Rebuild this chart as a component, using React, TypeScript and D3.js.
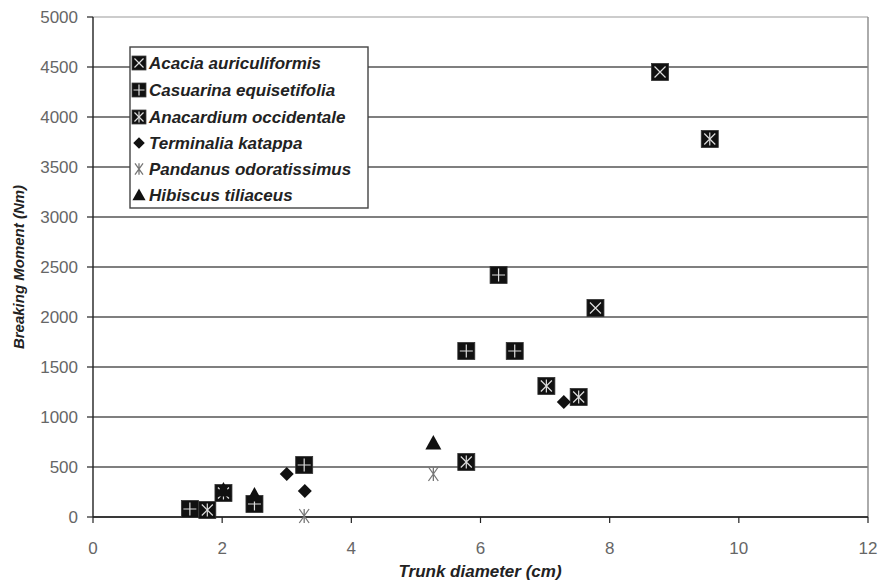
import React from "react";
import * as d3 from "d3";

const speciesNames = [
  "Acacia auriculiformis",
  "Casuarina equisetifolia",
  "Anacardium occidentale",
  "Terminalia katappa",
  "Pandanus odoratissimus",
  "Hibiscus tiliaceus",
];
const markerKinds = ["sqx", "sqplus", "sqstar", "diamond", "star", "triangle"];

const acaciaX = [8.78, 7.78];
const acaciaY = [4450, 2090];
const casuarinaX = [6.28, 5.78, 6.53, 3.27, 1.5, 2.5];
const casuarinaY = [2420, 1660, 1660, 520, 80, 130];
const anacardiumX = [9.55, 7.02, 7.52, 5.78, 1.77, 2.02];
const anacardiumY = [3780, 1310, 1200, 550, 70, 240];
const terminaliaX = [7.29, 3.0, 3.28];
const terminaliaY = [1150, 430, 260];
const pandanusX = [5.27, 3.27];
const pandanusY = [430, 10];
const hibiscusX = [5.27, 2.5, 2.02];
const hibiscusY = [740, 220, 270];

const xTicks = [0, 2, 4, 6, 8, 10, 12];
const yTicks = [0, 500, 1000, 1500, 2000, 2500, 3000, 3500, 4000, 4500, 5000];

const seriesX = [acaciaX, casuarinaX, anacardiumX, terminaliaX, pandanusX, hibiscusX];
const seriesY = [acaciaY, casuarinaY, anacardiumY, terminaliaY, pandanusY, hibiscusY];

function Marker({ kind, x, y, s = 1 }: { kind: string; x: number; y: number; s?: number }) {
  const h = 8.5 * s;
  const w = 5.5 * s;
  if (kind === "sqx" || kind === "sqplus" || kind === "sqstar") {
    return (
      <g transform={`translate(${x},${y})`}>
        <rect x={-h} y={-h} width={2 * h} height={2 * h} fill="#111" stroke="#333" strokeWidth={0.8} />
        {(kind === "sqx" || kind === "sqstar") && (
          <path d={`M${-w},${-w}L${w},${w}M${-w},${w}L${w},${-w}`} stroke="#ddd" strokeWidth={1.2} />
        )}
        {kind === "sqplus" && (
          <path d={`M${-w - 1},0L${w + 1},0M0,${-w - 1}L0,${w + 1}`} stroke="#ddd" strokeWidth={1.2} />
        )}
        {kind === "sqstar" && <path d={`M0,${-w - 1}L0,${w + 1}`} stroke="#ddd" strokeWidth={1.2} />}
      </g>
    );
  }
  if (kind === "diamond") {
    const r = 7 * s;
    return <path transform={`translate(${x},${y})`} d={`M0,${-r}L${r},0L0,${r}L${-r},0Z`} fill="#111" />;
  }
  if (kind === "triangle") {
    const r = 8 * s;
    return <path transform={`translate(${x},${y})`} d={`M0,${-r}L${r},${r * 0.8}L${-r},${r * 0.8}Z`} fill="#111" />;
  }
  const r = 7 * s;
  return (
    <path
      transform={`translate(${x},${y})`}
      d={`M${-r * 0.7},${-r}L${r * 0.7},${r}M${-r * 0.7},${r}L${r * 0.7},${-r}M0,${-r}L0,${r}`}
      stroke="#777"
      strokeWidth={1.3}
      fill="none"
    />
  );
}

export default function App() {
  const W = 881;
  const H = 584;
  const left = 93;
  const right = 868;
  const top = 17;
  const bottom = 517;
  const x = d3.scaleLinear().domain([0, 12]).range([left, right]);
  const y = d3.scaleLinear().domain([0, 5000]).range([bottom, top]);
  const font = "Arial, 'Liberation Sans', sans-serif";

  const legend = { x: 130, y: 47, w: 238, h: 161 };
  const legendRowY = [63, 90, 117, 143, 169, 195];

  return (
    <svg width={W} height={H} style={{ position: "absolute", left: 0, top: 0, background: "#fff" }}>
      <rect width={W} height={H} fill="#fff" />
      {yTicks.map((t) => (
        <line
          key={"g" + t}
          x1={left}
          x2={right}
          y1={y(t)}
          y2={y(t)}
          stroke={t === 5000 ? "#bbb" : "#555"}
          strokeWidth={1.6}
        />
      ))}
      <line x1={right} x2={right} y1={top} y2={bottom} stroke="#888" strokeWidth={1.4} />
      <line x1={left} x2={left} y1={top} y2={bottom} stroke="#222" strokeWidth={1.4} />
      <line x1={left} x2={right} y1={bottom} y2={bottom} stroke="#222" strokeWidth={1.6} />
      {yTicks.map((t) => (
        <g key={"yt" + t}>
          <line x1={left - 6} x2={left} y1={y(t)} y2={y(t)} stroke="#222" strokeWidth={1.2} />
          <text x={left - 15} y={y(t)} dy="0.35em" textAnchor="end" fontFamily={font} fontSize={17} fill="#666">
            {t}
          </text>
        </g>
      ))}
      {xTicks.map((t) => (
        <g key={"xt" + t}>
          <line x1={x(t)} x2={x(t)} y1={bottom} y2={bottom + 6} stroke="#222" strokeWidth={1.2} />
          <text x={x(t)} y={bottom + 37} textAnchor="middle" fontFamily={font} fontSize={17} fill="#666">
            {t}
          </text>
        </g>
      ))}
      <text
        x={480}
        y={577}
        textAnchor="middle"
        fontFamily={font}
        fontSize={17}
        fontStyle="italic"
        fontWeight="bold"
        fill="#222"
      >
        Trunk diameter (cm)
      </text>
      <text
        transform={`translate(24,${(top + bottom) / 2}) rotate(-90)`}
        textAnchor="middle"
        fontFamily={font}
        fontSize={15}
        fontStyle="italic"
        fontWeight="bold"
        fill="#222"
      >
        Breaking Moment (Nm)
      </text>
      <rect x={legend.x} y={legend.y} width={legend.w} height={legend.h} fill="#fff" stroke="#444" strokeWidth={1.4} />
      {speciesNames.map((n, i) => (
        <g key={n}>
          <Marker kind={markerKinds[i]} x={139} y={legendRowY[i]} s={0.82} />
          <text
            x={149}
            y={legendRowY[i]}
            dy="0.36em"
            fontFamily={font}
            fontSize={17}
            fontStyle="italic"
            fontWeight="bold"
            fill="#222"
          >
            {n}
          </text>
        </g>
      ))}
      {seriesX.map((xs, si) =>
        xs.map((xv, pi) => (
          <Marker key={si + "-" + pi} kind={markerKinds[si]} x={x(xv)} y={y(seriesY[si][pi])} />
        ))
      )}
    </svg>
  );
}
